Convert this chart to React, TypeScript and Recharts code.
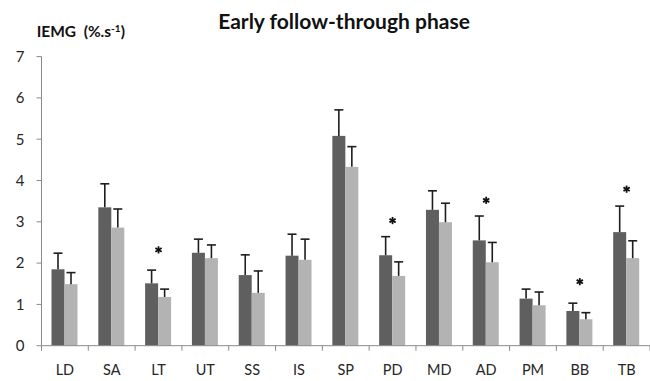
import { ComposedChart, Bar, Scatter, XAxis, YAxis } from 'recharts';

const categories = ['LD', 'SA', 'LT', 'UT', 'SS', 'IS', 'SP', 'PD', 'MD', 'AD', 'PM', 'BB', 'TB'];
const darkValues = [1.85, 3.35, 1.51, 2.25, 1.71, 2.18, 5.08, 2.19, 3.29, 2.55, 1.14, 0.84, 2.75];
const darkErrors = [0.39, 0.57, 0.32, 0.33, 0.49, 0.52, 0.63, 0.45, 0.46, 0.59, 0.23, 0.19, 0.63];
const lightValues = [1.49, 2.86, 1.18, 2.12, 1.28, 2.08, 4.33, 1.69, 2.99, 2.02, 0.98, 0.64, 2.12];
const lightErrors = [0.28, 0.45, 0.19, 0.32, 0.53, 0.5, 0.49, 0.34, 0.46, 0.48, 0.32, 0.16, 0.42];
const starLevels = [null, null, 2.32, null, null, null, null, 3.03, null, 3.52, null, 1.55, 3.79];
const yTicks = [0, 1, 2, 3, 4, 5, 6, 7];

const data = categories.map((name, i) => ({
    name,
    dark: darkValues[i],
    darkErr: darkErrors[i],
    light: lightValues[i],
    lightErr: lightErrors[i],
    star: starLevels[i],
}));

const W = 650;
const H = 381;
const Y_AXIS_W = 41.5;
const X_AXIS_H = 35.3;
const TOP = 56.6;
const band = (W - Y_AXIS_W) / categories.length;
const axisColor = '#8a8a8a';
const font = 'Lato, "Open Sans", sans-serif';

// bar rectangle plus an upper-only error whisker
const barWithError = (valKey: string, errKey: string) => (props: any) => {
    const { x, y, width, height, fill, payload } = props;
    const k = height / payload[valKey];
    const top = y - payload[errKey] * k;
    const cx = x + width / 2;
    return (
        <g>
            <rect x={x} y={y} width={width} height={height} fill={fill} />
            <line x1={cx} x2={cx} y1={y} y2={top} stroke="#1e1e1e" strokeWidth={1.6} />
            <line x1={cx - 4.5} x2={cx + 4.5} y1={top} y2={top} stroke="#1e1e1e" strokeWidth={1.6} />
        </g>
    );
};

const StarShape = (props: any) => {
    const { cx, cy } = props;
    if (cx == null || cy == null) return null;
    const r = 3.6;
    return (
        <g stroke="#111" strokeWidth={1.8}>
            <line x1={cx} x2={cx} y1={cy - r} y2={cy + r} />
            <line x1={cx - r * 0.87} x2={cx + r * 0.87} y1={cy - r / 2} y2={cy + r / 2} />
            <line x1={cx - r * 0.87} x2={cx + r * 0.87} y1={cy + r / 2} y2={cy - r / 2} />
        </g>
    );
};

const CategoryTick = (props: any) => {
    const { x, y, payload, index } = props;
    const left = x - band / 2;
    return (
        <g>
            <line x1={left} x2={left} y1={y} y2={y + 5} stroke={axisColor} />
            {index === categories.length - 1 && (
                <line x1={x + band / 2} x2={x + band / 2} y1={y} y2={y + 5} stroke={axisColor} />
            )}
            <text x={x} y={y + 29} textAnchor="middle" fontSize={14.5} fill="#262626" fontFamily={font}>
                {payload.value}
            </text>
        </g>
    );
};

export default function App() {
    return (
        <div style={{ position: 'absolute', left: 0, top: 0, width: W, height: H, background: '#fff' }}>
            <ComposedChart
                width={W}
                height={H}
                data={data}
                margin={{ top: TOP, right: 0, bottom: 0, left: 0 }}
                barCategoryGap={10}
                barGap={0}
            >
                <XAxis
                    dataKey="name"
                    height={X_AXIS_H}
                    stroke={axisColor}
                    tickLine={false}
                    tickSize={0}
                    tickMargin={0}
                    tick={<CategoryTick />}
                    interval={0}
                />
                <YAxis
                    width={Y_AXIS_W}
                    domain={[0, 7]}
                    ticks={yTicks}
                    stroke={axisColor}
                    tickSize={5}
                    tickMargin={12}
                    tick={{ fontSize: 15, fill: '#262626', fontFamily: font }}
                />
                <Bar dataKey="dark" fill="#5f5f5f" isAnimationActive={false} shape={barWithError('dark', 'darkErr')} />
                <Bar dataKey="light" fill="#b3b3b3" isAnimationActive={false} shape={barWithError('light', 'lightErr')} />
                <Scatter dataKey="star" isAnimationActive={false} shape={<StarShape />} />
            </ComposedChart>
            <svg width={W} height={H} style={{ position: 'absolute', left: 0, top: 0, pointerEvents: 'none' }}>
                <text x={344} y={29.3} textAnchor="middle" fontSize={21} fontWeight="bold" fill="#111" fontFamily={font}>
                    Early follow-through phase
                </text>
                <text x={36.7} y={37.3} fontSize={15.5} fontWeight="bold" fill="#111" fontFamily={font}>
                    IEMG{'\u00a0\u00a0'}(%.s
                    <tspan dy={-5.5} fontSize={10}>-1</tspan>
                    <tspan dy={5.5}>)</tspan>
                </text>
            </svg>
        </div>
    );
}
